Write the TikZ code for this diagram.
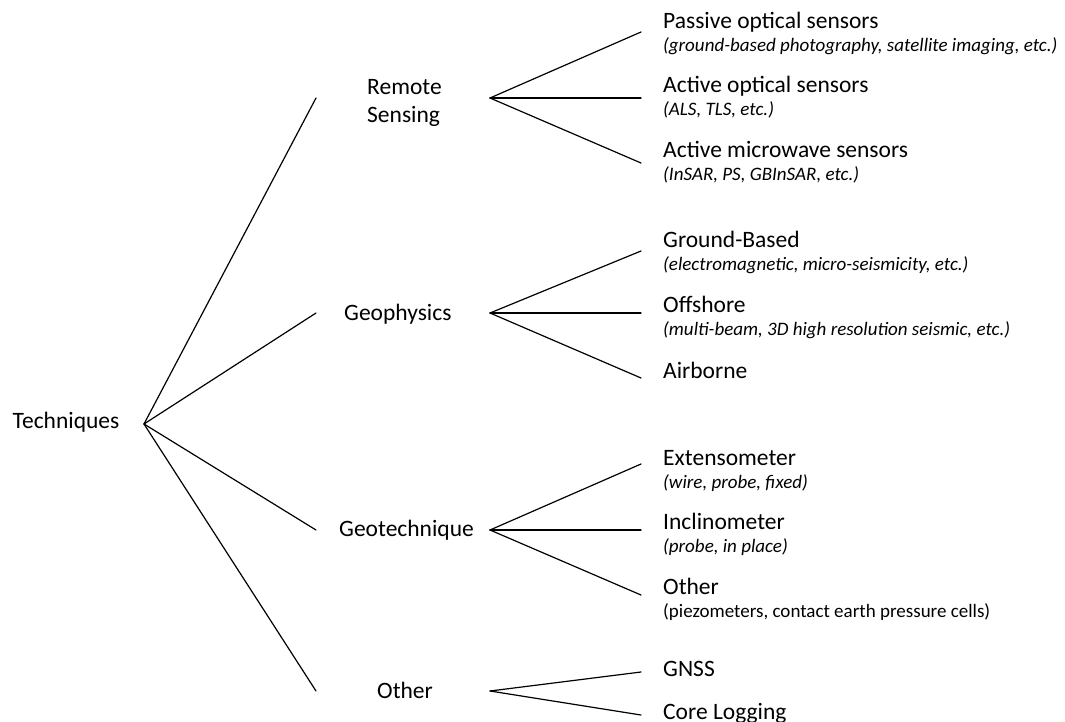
\documentclass[tikz,border=0pt]{standalone}
\usepackage{fontspec}
\setmainfont{Carlito}
\begin{document}
\begin{tikzpicture}[x=1pt,y=-1pt,
  lbl/.style={inner sep=0pt, anchor=base west, font=\fontsize{23.5}{28}\selectfont},
  sub/.style={inner sep=0pt, anchor=base west, font=\fontsize{19}{22}\selectfont\itshape},
  subup/.style={inner sep=0pt, anchor=base west, font=\fontsize{19}{22}\selectfont},
  edge/.style={line width=1.2pt, line cap=round}]
\useasboundingbox (0,0) rectangle (1065,722);

% root and category labels
\node[lbl] (tech) at (12.5,428) {Techniques};
\node[lbl] (rs1) at (367,94.3) {Remote};
\node[lbl] (rs2) at (367,123) {Sensing};
\node[lbl] (geoph) at (344,320.7) {Geophysics};
\node[lbl] (geot) at (339,536.7) {Geotechnique};
\node[lbl] (oth) at (377,698) {Other};

% leaf labels
\node[lbl] (pos) at (663,29) {Passive optical sensors};
\node[sub] (poss) at (663,52) {(ground-based photography, satellite imaging, etc.)};
\node[lbl] (aos) at (663,93) {Active optical sensors};
\node[sub] (aoss) at (663,116) {(ALS, TLS, etc.)};
\node[lbl] (ams) at (663,158) {Active microwave sensors};
\node[sub] (amss) at (663,181) {(InSAR, PS, GBInSAR, etc.)};
\node[lbl] (gb) at (663,247) {Ground-Based};
\node[sub] (gbs) at (663,270) {(electromagnetic, micro-seismicity, etc.)};
\node[lbl] (off) at (663,312) {Offshore};
\node[sub] (offs) at (663,335) {(multi-beam, 3D high resolution seismic, etc.)};
\node[lbl] (air) at (663,378) {Airborne};
\node[lbl] (ext) at (663,465) {Extensometer};
\node[sub] (exts) at (663,488) {(wire, probe, fixed)};
\node[lbl] (inc) at (663,529) {Inclinometer};
\node[sub] (incs) at (663,552) {(probe, in place)};
\node[lbl] (oth2) at (663,594) {Other};
\node[subup] (oth2s) at (663,617) {(piezometers, contact earth pressure cells)};
\node[lbl] (gnss) at (663,676) {GNSS};
\node[lbl] (core) at (663,719) {Core Logging};

% branching points
\coordinate (root) at (144,424);
\coordinate (rsin) at (316,98);
\coordinate (geophin) at (316,313);
\coordinate (geotin) at (316,530);
\coordinate (othin) at (316,691);
\coordinate (rsb) at (490,98);
\coordinate (geophb) at (490,313);
\coordinate (geotb) at (490,530);
\coordinate (othb) at (490,691);
% leaf ends
\coordinate (e1) at (641,32);
\coordinate (e2) at (641,98);
\coordinate (e3) at (641,163);
\coordinate (e4) at (641,251);
\coordinate (e5) at (641,313);
\coordinate (e6) at (641,378);
\coordinate (e7) at (641,464);
\coordinate (e8) at (641,530);
\coordinate (e9) at (641,595);
\coordinate (e10) at (641,672);
\coordinate (e11) at (641,715);

\draw[edge] (root) -- (rsin);
\draw[edge] (root) -- (geophin);
\draw[edge] (root) -- (geotin);
\draw[edge] (root) -- (othin);
\foreach \e in {e1,e2,e3} \draw[edge] (rsb) -- (\e);
\foreach \e in {e4,e5,e6} \draw[edge] (geophb) -- (\e);
\foreach \e in {e7,e8,e9} \draw[edge] (geotb) -- (\e);
\foreach \e in {e10,e11} \draw[edge] (othb) -- (\e);
\end{tikzpicture}
\end{document}
